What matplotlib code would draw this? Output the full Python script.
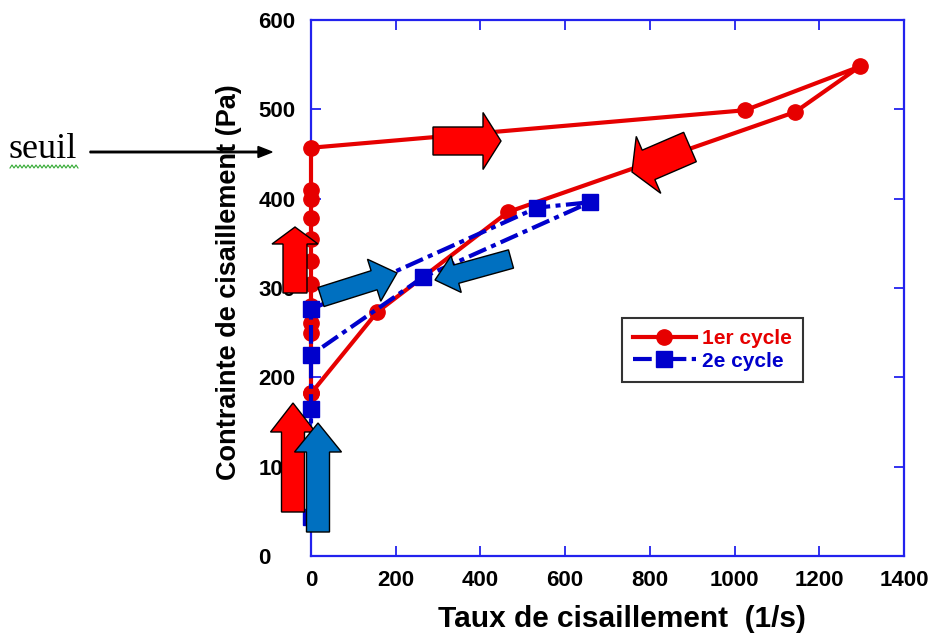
import matplotlib.pyplot as plt
from matplotlib.patches import FancyArrow
from matplotlib.lines import Line2D
from matplotlib.transforms import Affine2D

plt.rcParams['font.family'] = ['Liberation Sans', 'DejaVu Sans']

# 1er cycle : montee a taux ~0 puis aller-retour en cisaillement
cycle1_x = [0, 0, 0, 0, 0, 0, 0, 0, 0, 0, 0, 1025, 1296, 1143, 465, 156, 0]
cycle1_y = [182, 250, 261, 280, 305, 330, 355, 378, 400, 410, 457, 499, 548, 497, 385, 273, 182]

# 2e cycle
cycle2_x = [0, 0, 0, 534, 659, 264, 0]
cycle2_y = [44, 165, 276, 390, 396, 312, 225]

xticks = [0, 200, 400, 600, 800, 1000, 1200, 1400]
yticks = [0, 100, 200, 300, 400, 500, 600]

red = '#e60000'
blue = '#0000cc'
spine_blue = '#2222ee'

W, H = 936, 637
fig = plt.figure(figsize=(W / 100, H / 100), dpi=100)
ax = fig.add_axes([311 / W, 81 / H, 593 / W, 536 / H])

ax.plot(cycle1_x, cycle1_y, color=red, lw=3, marker='o', ms=11,
        clip_on=False, zorder=3, label='1er cycle')
ax.plot(cycle2_x, cycle2_y, color=blue, lw=3, marker='s', ms=11,
        linestyle=(0, (4.5, 1.3, 1.2, 1.3)), clip_on=False, zorder=4,
        label='2e cycle')

ax.set_xlim(0, 1400)
ax.set_ylim(0, 600)
ax.set_xticks(xticks)
ax.set_yticks(yticks)
ax.tick_params(direction='in', length=7, width=1.3, color=spine_blue,
               top=True, right=True, labelsize=16)
ax.tick_params(axis='x', pad=10)
ax.tick_params(axis='y', pad=38)
for lab in ax.get_xticklabels() + ax.get_yticklabels():
    lab.set_fontweight('bold')
for lab in ax.get_yticklabels():
    lab.set_horizontalalignment('left')
for sp in ax.spines.values():
    sp.set_color(spine_blue)
    sp.set_linewidth(1.6)

ax.set_xlabel('Taux de cisaillement  (1/s)', fontsize=21.5, fontweight='bold',
              labelpad=10)
ax.xaxis.label.set_x(0.524)
ax.set_ylabel('Contrainte de cisaillement (Pa)', fontsize=19.5,
              fontweight='bold', labelpad=12)
ax.yaxis.label.set_y(0.511)

leg = ax.legend(loc='upper left', bbox_to_anchor=(0.524, 0.444),
                borderaxespad=0, prop={'size': 15, 'weight': 'bold'},
                labelcolor='linecolor', handlelength=3.0, handletextpad=0.3,
                labelspacing=0.15, borderpad=0.55, fancybox=False,
                framealpha=1)
leg.get_frame().set_edgecolor('#333333')
leg.get_frame().set_linewidth(1.5)

# pixel coordinates, origin at the top-left corner
px = Affine2D().scale(0.01, -0.01).translate(0, H / 100) + fig.dpi_scale_trans


def block_arrow(x0, y0, x1, y1, width, head_w, head_l, color):
    a = FancyArrow(x0, y0, x1 - x0, y1 - y0, width=width, head_width=head_w,
                   head_length=head_l, length_includes_head=True,
                   facecolor=color, edgecolor='black', linewidth=1,
                   transform=px, zorder=6, clip_on=False)
    fig.patches.append(a)


arrow_blue = '#0070c0'
block_arrow(293, 512, 293, 403, 23, 45, 29, '#ff0000')
block_arrow(318, 532, 318, 423, 23, 47, 29, arrow_blue)
block_arrow(295, 293, 295, 227, 24, 46, 17, '#ff0000')
block_arrow(321, 297, 397, 273, 20, 44, 24, arrow_blue)
block_arrow(511, 259, 435, 280, 19, 38, 22, arrow_blue)
block_arrow(433, 141, 501, 141, 28, 57, 18, '#ff0000')
block_arrow(690, 147, 632, 172, 32, 62, 18, '#ff0000')

# seuil label with its arrow
fig.text(9 / W, 1 - 150 / H, 'seuil', family=['Liberation Serif'],
         fontsize=26, va='center', ha='left')
fig.patches.append(FancyArrow(90, 152, 182, 0, width=1.5, head_width=11,
                              head_length=14, length_includes_head=True,
                              color='black', transform=px, clip_on=False))

# wavy underline under "seuil"
wx = []
wy = []
x = 10
k = 0
while x <= 78:
    wx.append(x)
    wy.append(168 if k % 2 == 0 else 165)
    x += 2
    k += 1
fig.add_artist(Line2D(wx, wy, color='#33aa33', lw=0.8, transform=px))

fig.savefig('out.png', dpi=100)
